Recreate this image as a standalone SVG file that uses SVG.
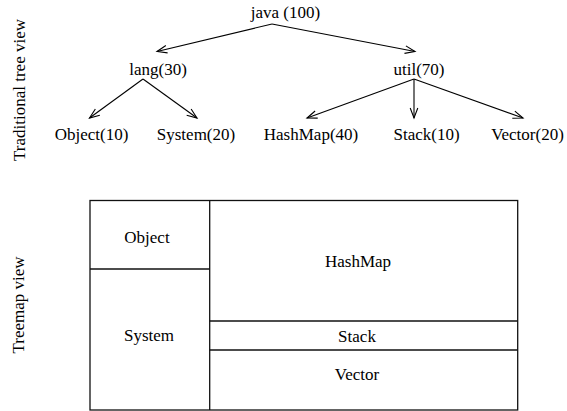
<svg xmlns="http://www.w3.org/2000/svg" width="567" height="411" viewBox="0 0 567 411">
  <style>
    text { font-family: "Liberation Serif", "Times New Roman", serif; font-size: 17px; fill: #000; }
    .mid { text-anchor: middle; }
    .edge { stroke: #000; stroke-width: 1.1; fill: none; marker-end: url(#arrow); }
    .cell { stroke: #111; stroke-width: 1.3; fill: #fff; }
    .rule { stroke: #111; stroke-width: 1.3; }
  </style>
  <defs>
    <marker id="arrow" markerUnits="userSpaceOnUse" markerWidth="14" markerHeight="12" viewBox="-12 -6 14 12" refX="0" refY="0" orient="auto">
      <path d="M-10,-3.8 L0,0 L-10,3.8" fill="none" stroke="#000" stroke-width="1.1"/>
    </marker>
  </defs>
  <rect width="567" height="411" fill="#fff"/>

  <!-- side captions -->
  <text class="mid" transform="translate(25,90) rotate(-90)">Traditional tree view</text>
  <text class="mid" transform="translate(24,305) rotate(-90)">Treemap view</text>

  <!-- tree edges -->
  <g id="connectors">
    <path class="edge" d="M272,24 L157,51.5"/>
    <path class="edge" d="M272,24 L415,51.5"/>
    <path class="edge" d="M143,79 L89.5,118"/>
    <path class="edge" d="M143,79 L197,118"/>
    <path class="edge" d="M414,79 L307,118"/>
    <path class="edge" d="M414,79 L414,118"/>
    <path class="edge" d="M414,79 L523,118"/>
  </g>

  <!-- tree nodes -->
  <g id="java"><text class="mid" x="285.5" y="18">java (100)</text></g>
  <g id="lang"><text class="mid" x="158" y="75">lang(30)</text></g>
  <g id="util"><text class="mid" x="419" y="75">util(70)</text></g>
  <g id="object"><text class="mid" x="91.5" y="140">Object(10)</text></g>
  <g id="system"><text class="mid" x="196" y="140">System(20)</text></g>
  <g id="hashmap"><text class="mid" x="311" y="140">HashMap(40)</text></g>
  <g id="stack"><text class="mid" x="426.5" y="140">Stack(10)</text></g>
  <g id="vector"><text class="mid" x="527.5" y="140">Vector(20)</text></g>

  <!-- treemap -->
  <g id="treemap">
    <rect class="cell" x="90" y="200.5" width="427.7" height="209.5"/>
    <line class="rule" x1="209.7" y1="200.5" x2="209.7" y2="410"/>
    <line class="rule" x1="90" y1="269" x2="209.7" y2="269"/>
    <line class="rule" x1="209.7" y1="321" x2="517.7" y2="321"/>
    <line class="rule" x1="209.7" y1="350" x2="517.7" y2="350"/>
  </g>
  <g id="tm-object"><text class="mid" x="147" y="243">Object</text></g>
  <g id="tm-system"><text class="mid" x="149" y="341">System</text></g>
  <g id="tm-hashmap"><text class="mid" x="358" y="267">HashMap</text></g>
  <g id="tm-stack"><text class="mid" x="357" y="342">Stack</text></g>
  <g id="tm-vector"><text class="mid" x="357" y="380">Vector</text></g>
</svg>
